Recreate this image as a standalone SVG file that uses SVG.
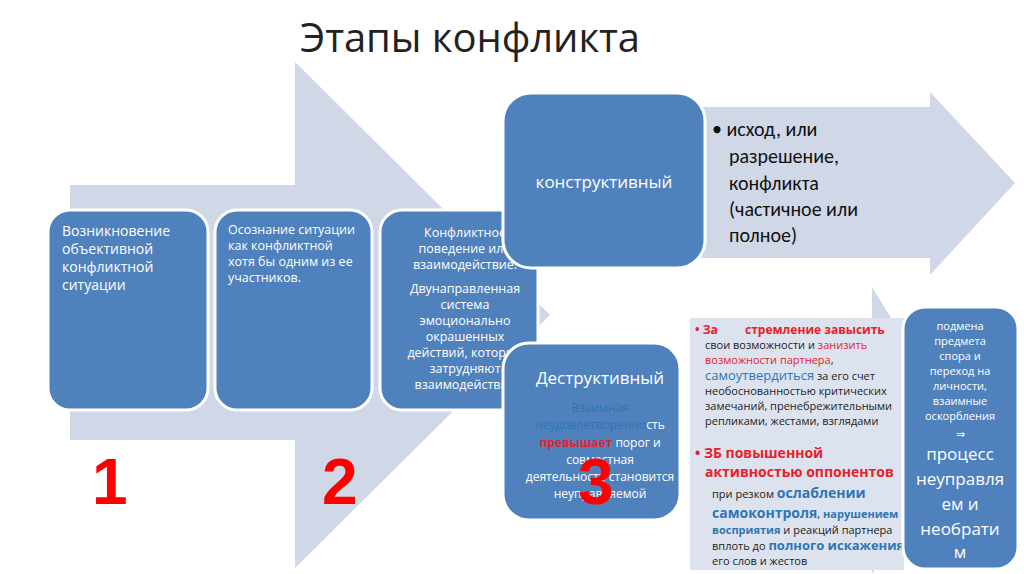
<svg xmlns="http://www.w3.org/2000/svg" width="1024" height="574" viewBox="0 0 1024 574">
<style>
.box{fill:#4f81bd;stroke:#fff;stroke-width:3}
.arr{fill:#d0d8e8}
.t{font-family:"Open Sans","Liberation Sans",sans-serif;fill:#fff}
.s{font-family:"Open Sans","Liberation Sans",sans-serif;font-size:11px;fill:#222}
.b{font-weight:bold}
.r{fill:#e8202a}.bl{fill:#2e75b6}
.num{font-family:"Liberation Sans",sans-serif;font-weight:bold;font-size:64px;fill:#f00}
</style>
<rect width="1024" height="574" fill="#fff"/>
<text x="300" y="52" font-family="'Open Sans','Liberation Sans',sans-serif" font-size="40" fill="#222" textLength="340">Этапы конфликта</text>
<g id="arrows">
<polygon class="arr" points="70,185 295,185 295,62 550,315 295,568 295,440 70,440"/>
<polygon class="arr" points="700,107 930,107 930,92 1015,183 930,275 930,258 700,258"/>
<polygon class="arr" points="690,318 872,318 872,287 960,430 872,574 872,545 690,545"/>
</g>
<g id="n1"><rect class="box" x="48" y="210" width="160" height="200" rx="22"/>
<text class="t" font-size="14"><tspan x="62" y="236">Возникновение</tspan><tspan x="62" y="254">объективной</tspan><tspan x="62" y="272">конфликтной</tspan><tspan x="62" y="290">ситуации</tspan></text></g>
<g id="n2"><rect class="box" x="215" y="210" width="157" height="200" rx="22"/>
<text class="t" font-size="12.5"><tspan x="228" y="234">Осознание ситуации</tspan><tspan x="228" y="250">как конфликтной</tspan><tspan x="228" y="266">хотя бы одним из ее</tspan><tspan x="228" y="282">участников.</tspan></text></g>
<g id="n3"><rect class="box" x="380" y="210" width="158" height="200" rx="22"/>
<text class="t" font-size="12.5" text-anchor="middle"><tspan x="465" y="237">Конфликтное</tspan><tspan x="465" y="253">поведение или</tspan><tspan x="465" y="269">взаимодействие.</tspan><tspan x="465" y="293">Двунаправленная</tspan><tspan x="465" y="309">система</tspan><tspan x="465" y="325">эмоционально</tspan><tspan x="465" y="341">окрашенных</tspan><tspan x="465" y="357">действий, которые</tspan><tspan x="465" y="373">затрудняют</tspan><tspan x="465" y="389">взаимодействие</tspan></text></g>
<g id="n4"><rect class="box" x="503" y="93" width="202" height="175" rx="28"/>
<text class="t" font-size="17" x="604" y="188" text-anchor="middle">конструктивный</text></g>
<g id="n4t"><text font-family="Calibri,'Liberation Sans',sans-serif" font-size="20" fill="#111"><tspan x="712" y="136">• исход, или</tspan><tspan x="729" y="163">разрешение,</tspan><tspan x="729" y="190">конфликта</tspan><tspan x="729" y="216">(частичное или</tspan><tspan x="729" y="242">полное)</tspan></text></g>
<g id="n5"><rect class="box" x="503" y="343" width="177" height="177" rx="26"/>
<text class="t" font-size="17" x="600" y="384" text-anchor="middle">Деструктивный</text>
<text class="t" font-size="12" text-anchor="middle"><tspan x="600" y="412" class="bl">Взаимная</tspan><tspan x="600" y="429"><tspan class="bl">неудовлетворенно</tspan>сть</tspan><tspan x="600" y="447"><tspan class="r b">превышает</tspan> порог и</tspan><tspan x="600" y="464">совместная</tspan><tspan x="600" y="481">деятельность становится</tspan><tspan x="600" y="498">неуправляемой</tspan></text></g>
<g id="n6"><rect x="690" y="318" width="214" height="252" fill="#dde3ee"/>
<text class="s"><tspan x="695" y="334" class="r b" font-size="12">• За</tspan><tspan x="745" y="334" class="r b" font-size="12">стремление завысить</tspan><tspan x="705" y="349">свои возможности и <tspan class="r">занизить</tspan></tspan><tspan x="705" y="364" class="r">возможности партнера<tspan fill="#222">,</tspan></tspan><tspan x="705" y="380"><tspan class="bl" font-size="13">самоутвердиться</tspan> за его счет</tspan><tspan x="705" y="395">необоснованностью критических</tspan><tspan x="705" y="410">замечаний, пренебрежительными</tspan><tspan x="705" y="425">репликами, жестами, взглядами</tspan><tspan x="695" y="458" class="r b" font-size="14">• ЗБ повышенной</tspan><tspan x="705" y="477" class="r b" font-size="14">активностью оппонентов</tspan><tspan x="712" y="498">при резком <tspan class="bl b" font-size="14">ослаблении</tspan></tspan><tspan x="712" y="518"><tspan class="bl b" font-size="14">самоконтроля</tspan>, <tspan class="bl b">нарушением</tspan></tspan><tspan x="712" y="534"><tspan class="bl b">восприятия</tspan> и реакций партнера</tspan><tspan x="712" y="550">вплоть до <tspan class="bl b" font-size="13">полного искажения</tspan></tspan><tspan x="712" y="565">его слов и жестов</tspan></text></g>
<g id="n7"><rect class="box" x="903" y="307" width="115" height="262" rx="22" stroke="#1f4e79" stroke-width="2"/>
<text class="t" font-size="11" text-anchor="middle"><tspan x="960" y="330">подмена</tspan><tspan x="960" y="345">предмета</tspan><tspan x="960" y="360">спора и</tspan><tspan x="960" y="375">переход на</tspan><tspan x="960" y="390">личности,</tspan><tspan x="960" y="405">взаимные</tspan><tspan x="960" y="420">оскорбления</tspan><tspan x="960" y="438">⇒</tspan></text>
<text class="t" font-size="17" text-anchor="middle"><tspan x="960" y="460">процесс</tspan><tspan x="960" y="485">неуправля</tspan><tspan x="960" y="510">ем и</tspan><tspan x="960" y="535">необрати</tspan><tspan x="960" y="558">м</tspan></text></g>
<g id="nums"><text class="num" x="92" y="504">1</text><text class="num" x="322" y="504">2</text><text class="num" x="578" y="504">3</text></g>
</svg>
